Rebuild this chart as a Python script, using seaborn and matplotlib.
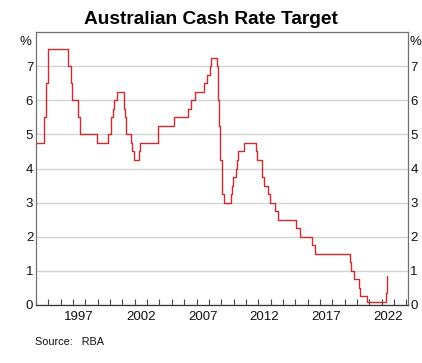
import matplotlib
matplotlib.use("Agg")
import matplotlib.pyplot as plt
import seaborn as sns
import pandas as pd

# RBA cash rate target decisions (date, new rate %)
change_dates = [
    "1993-07-30", "1994-08-17", "1994-10-24", "1994-12-14", "1996-07-31",
    "1996-11-06", "1996-12-11", "1997-05-23", "1997-07-30", "1998-12-02",
    "1999-11-03", "2000-02-02", "2000-04-05", "2000-05-03", "2000-08-02",
    "2001-02-07", "2001-03-07", "2001-04-04", "2001-09-05", "2001-10-03",
    "2001-12-05", "2002-05-08", "2002-06-05", "2003-11-05", "2003-12-03",
    "2005-03-02", "2006-05-03", "2006-08-02", "2006-11-08", "2007-08-08",
    "2007-11-07", "2008-02-06", "2008-03-05", "2008-09-03", "2008-10-08",
    "2008-11-05", "2008-12-03", "2009-02-04", "2009-04-08", "2009-10-07",
    "2009-11-04", "2009-12-02", "2010-03-03", "2010-04-07", "2010-05-05",
    "2010-11-03", "2011-11-02", "2011-12-07", "2012-05-02", "2012-06-06",
    "2012-10-03", "2012-12-05", "2013-05-08", "2013-08-07", "2015-02-04",
    "2015-05-06", "2016-05-04", "2016-08-03", "2019-06-05", "2019-07-03",
    "2019-10-02", "2020-03-04", "2020-03-20", "2020-11-04", "2022-05-04",
    "2022-06-08",
]
cash_rate = [
    4.75, 5.50, 6.50, 7.50, 7.00,
    6.50, 6.00, 5.50, 5.00, 4.75,
    5.00, 5.50, 5.75, 6.00, 6.25,
    5.75, 5.50, 5.00, 4.75, 4.50,
    4.25, 4.50, 4.75, 5.00, 5.25,
    5.50, 5.75, 6.00, 6.25, 6.50,
    6.75, 7.00, 7.25, 7.00, 6.00,
    5.25, 4.25, 3.25, 3.00, 3.25,
    3.50, 3.75, 4.00, 4.25, 4.50,
    4.75, 4.50, 4.25, 3.75, 3.50,
    3.25, 3.00, 2.75, 2.50, 2.25,
    2.00, 1.75, 1.50, 1.25, 1.00,
    0.75, 0.50, 0.25, 0.10, 0.35,
    0.85,
]
year_labels = ["1997", "2002", "2007", "2012", "2017", "2022"]
y_labels = ["0", "1", "2", "3", "4", "5", "6", "7"]

dates = pd.to_datetime(change_dates)
frac_year = dates.year + (dates.dayofyear - 1) / 365.25
df = pd.DataFrame({"year": frac_year, "rate": cash_rate})

sns.set_style("white")
plt.rcParams["font.family"] = ["Liberation Sans", "DejaVu Sans"]

fig = plt.figure(figsize=(4.22, 3.63), dpi=100)
ax = fig.add_axes([0.0853, 0.1598, 0.8807, 0.752])

sns.lineplot(data=df, x="year", y="rate", ax=ax, drawstyle="steps-post",
             color="#d02a2f", linewidth=1.0)

ax.set_xlim(1994, 2024.1)
ax.set_ylim(0, 8)
ax.set_xlabel("")
ax.set_ylabel("")

# year boundary ticks, labels centred mid-year
ax.set_xticks(range(1994, 2025), minor=True)
ax.set_xticks([int(y) + 0.5 for y in year_labels])
ax.set_xticklabels(year_labels, fontsize=9.5, color="#111111")
ax.tick_params(axis="x", which="minor", direction="in", length=4.5,
               width=0.8, color="#444444", bottom=True)
ax.tick_params(axis="x", which="major", length=0, pad=4)

ax.set_yticks(range(0, 8))
ax.set_yticklabels(y_labels, fontsize=9.5, color="#111111")
ax.tick_params(axis="y", length=0, pad=2, labelright=True, right=False)
ax.grid(axis="y", color="#d4d4d4", linewidth=1.0)
ax.set_axisbelow(True)

for s in ax.spines.values():
    s.set_color("#707070")
    s.set_linewidth(0.9)
ax.spines["bottom"].set_color("#333333")

ax.text(-0.012, 0.985, "%", transform=ax.transAxes, ha="right", va="top",
        fontsize=9.5, color="#111111")
ax.text(1.005, 0.985, "%", transform=ax.transAxes, ha="left", va="top",
        fontsize=9.5, color="#111111")

fig.text(0.5, 0.945, "Australian Cash Rate Target", ha="center", va="center",
         fontsize=13.8, fontweight="bold", color="#000000")
fig.text(0.083, 0.057, "Source:   RBA", ha="left", va="center", fontsize=7.8,
         color="#111111")

fig.savefig("out.png", dpi=100)
